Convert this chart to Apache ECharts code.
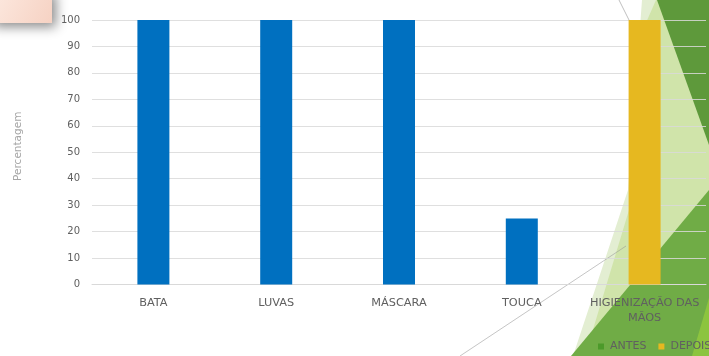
<!DOCTYPE html>
<html>
<head>
<meta charset="utf-8">
<script src="https://cdn.jsdelivr.net/npm/echarts@6/dist/echarts.min.js"></script>
<style>
  html, body { margin: 0; padding: 0; background: #ffffff; }
  #chart { width: 709px; height: 356px; }
</style>
</head>
<body>
<div id="chart"></div>
<script>
// Protective equipment usage, before and after
const categories = ['BATA', 'LUVAS', 'MÁSCARA', 'TOUCA', 'HIGIENIZAÇÃO DAS MÃOS'];
const antes = [100, 100, 100, 25, 0];
const depois = [0, 0, 0, 0, 100];
const seriesNames = ['ANTES', 'DEPOIS'];
const yTicks = { min: 0, max: 100, step: 10 };

const font = '"DejaVu Sans", "Open Sans", sans-serif';
const labelGray = '#606060';

// Slide decoration behind the chart: facets on the right, note card top-left
const decor = [
  { type: 'rect', shape: { x: -10, y: -10, width: 62, height: 33 },
    style: { fill: new echarts.graphic.LinearGradient(0, 0, 1, 1, [
      { offset: 0, color: '#fdeae1' }, { offset: 1, color: '#f6d2c3' }]),
      shadowBlur: 12, shadowColor: 'rgba(0,0,0,0.45)', shadowOffsetX: 4, shadowOffsetY: 4 } },
  { type: 'polygon', shape: { points: [[642, 0], [709, 0], [709, 356], [573, 356], [628, 190]] },
    style: { fill: '#e3eed2' } },
  { type: 'polygon', shape: { points: [[656, 0], [709, 0], [709, 356], [585, 356], [632, 200], [645, 25]] },
    style: { fill: '#d0e4aa' } },
  { type: 'polygon', shape: { points: [[657, 0], [709, 0], [709, 145]] },
    style: { fill: '#5e993b' } },
  { type: 'polygon', shape: { points: [[709, 190], [709, 356], [571, 356]] },
    style: { fill: '#70ac46' } },
  { type: 'polygon', shape: { points: [[709, 298], [709, 356], [692, 356]] },
    style: { fill: '#8cc43f' } },
  { type: 'line', shape: { x1: 460, y1: 356, x2: 626, y2: 246 },
    style: { stroke: 'rgba(150,150,150,0.55)', lineWidth: 1 } },
  { type: 'line', shape: { x1: 619, y1: 0, x2: 634, y2: 30 },
    style: { stroke: 'rgba(150,150,150,0.6)', lineWidth: 1 } }
].map(e => Object.assign({ z: -10, silent: true }, e));

const chart = echarts.init(document.getElementById('chart'));
chart.setOption({
  animation: false,
  backgroundColor: 'transparent',
  graphic: decor,
  grid: { left: 92, right: 3, top: 20, bottom: 71.5, outerBoundsMode: 'none' },
  legend: {
    left: 593, top: 336, width: 200,
    itemWidth: 6, itemHeight: 6, itemGap: 12,
    textStyle: { color: labelGray, fontFamily: font, fontSize: 11, padding: [0, 0, 0, 1] },
    data: [
      { name: seriesNames[0], icon: 'rect', itemStyle: { color: '#4c9a2a' } },
      { name: seriesNames[1], icon: 'rect' }
    ]
  },
  xAxis: {
    type: 'category',
    data: categories,
    axisLine: { lineStyle: { color: '#d9d9d9' } },
    axisTick: { show: false },
    axisLabel: {
      color: labelGray, fontFamily: font, fontSize: 11.3, margin: 11,
      lineHeight: 15, interval: 0,
      formatter: v => v === 'HIGIENIZAÇÃO DAS MÃOS' ? 'HIGIENIZAÇÃO DAS\nMÃOS' : v
    }
  },
  yAxis: {
    type: 'value',
    min: yTicks.min, max: yTicks.max, interval: yTicks.step,
    name: 'Percentagem',
    nameLocation: 'middle',
    nameGap: 68,
    nameRotate: 90,
    nameTextStyle: { color: '#a6a6a6', fontFamily: font, fontSize: 10.5, padding: [0, 0, 0, 12] },
    axisLabel: { color: labelGray, fontFamily: font, fontSize: 10, margin: 12 },
    splitLine: { lineStyle: { color: 'rgba(217,217,217,0.85)' } },
    axisLine: { show: false },
    axisTick: { show: false }
  },
  series: [
    { name: seriesNames[0], type: 'bar', data: antes, barWidth: 32, barGap: '-100%',
      itemStyle: { color: '#0070c0' } },
    { name: seriesNames[1], type: 'bar', data: depois, barWidth: 32,
      itemStyle: { color: '#e6b820' } }
  ]
});
</script>
</body>
</html>
